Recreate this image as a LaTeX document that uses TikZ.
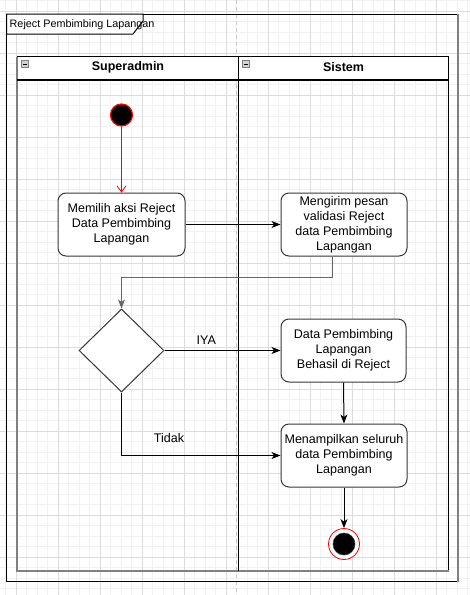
\documentclass[tikz,border=0pt]{standalone}
\usepackage{fontspec}
\setmainfont{Liberation Sans}
\usetikzlibrary{arrows.meta,shapes.geometric}
\definecolor{gridminor}{HTML}{F2F2F2}
\definecolor{gridmajor}{HTML}{DCDCDC}
\definecolor{edgegray}{HTML}{808080}
\definecolor{boxline}{HTML}{363636}
\tikzset{
  act/.style={rectangle, rounded corners=8pt, draw=boxline, fill=white, line width=1pt,
    align=center, inner sep=0pt, font=\fontsize{12.5}{15}\selectfont},
  flow/.style={line width=1pt, -{Stealth[length=9pt,width=7pt,inset=2.5pt]}},
  lbl/.style={font=\fontsize{12.5}{15}\selectfont, inner sep=0pt},
  hdr/.style={font=\bfseries\fontsize{12.5}{15}\selectfont, inner sep=0pt},
}
\begin{document}
\begin{tikzpicture}[x=1pt,y=-1pt]
\useasboundingbox (0,0) rectangle (470,595);
\fill[white] (0,0) rectangle (470,595);
% grid
\foreach \i in {0,...,45} \draw[gridminor, line width=0.5pt] (5.5+10.5*\i,0) -- (5.5+10.5*\i,595);
\foreach \i in {0,...,56} \draw[gridminor, line width=0.5pt] (0,0.5+10.5*\i) -- (470,0.5+10.5*\i);
\foreach \i in {0,...,10} \draw[gridmajor, line width=0.7pt] (16+42*\i,0) -- (16+42*\i,595);
\foreach \i in {0,...,13} \draw[gridmajor, line width=0.7pt] (0,11+42*\i) -- (470,11+42*\i);
% page break line
\draw[gridmajor!80!gray, line width=1pt, dash pattern=on 4pt off 3pt] (236.5,0) -- (236.5,595);
% frame
\draw[black, line width=1pt] (458,14) -- (6.5,14) -- (6.5,581.5) -- (458,581.5);
\draw[edgegray, line width=2.5pt] (458,14) -- (458,582);
\draw[black, line width=1pt, fill=white] (6.5,14) -- (143,14) -- (143,21) -- (133,34) -- (6.5,34) -- cycle;
\node[anchor=west, font=\fontsize{10.8}{12}\selectfont, inner sep=0pt] (title) at (9.5,24.5) {Reject Pembimbing Lapangan};
% pool
\fill[white] (17,56.5) rectangle (448.5,80);
\draw[black, line width=1.3pt] (17,56.5) -- (448.5,56.5) -- (448.5,571);
\draw[edgegray, line width=2.5pt] (17,56.5) -- (17,571) -- (448.5,571);
\draw[black, line width=1.3pt] (17,80) -- (448.5,80);
\draw[black, line width=1.3pt] (238.5,56.5) -- (238.5,571);
\node[hdr] (h1) at (128,67.5) {Superadmin};
\node[hdr] (h2) at (343.5,67.5) {Sistem};
\foreach \x in {21.5,242.5} {
  \draw[gray, fill=gray!35, line width=0.6pt] (\x,60.5) rectangle (\x+7,67.5);
  \draw[black, line width=0.8pt] (\x+1.8,64) -- (\x+5.2,64);
}
% nodes
\node[circle, fill=black, draw=red, line width=1.2pt, minimum size=22pt, inner sep=0pt] (start) at (121.5,115) {};
\node[act, minimum width=127pt, minimum height=63pt] (A) at (121.5,224.5) {Memilih aksi Reject\\Data Pembimbing\\Lapangan};
\node[act, minimum width=126pt, minimum height=63pt] (B) at (344,224.5) {Mengirim pesan\\validasi Reject\\data Pembimbing\\Lapangan};
\node[diamond, draw=boxline, fill=white, line width=1pt, minimum width=85pt, minimum height=83pt, inner sep=0pt] (dia) at (121.5,350.5) {};
\node[act, minimum width=125pt, minimum height=63pt] (C) at (343.5,350.5) {Data Pembimbing\\Lapangan\\Behasil di Reject};
\node[act, minimum width=126pt, minimum height=63pt] (D) at (344,455.5) {Menampilkan seluruh\\data Pembimbing\\Lapangan};
\node[circle, draw=red, fill=white, line width=0.8pt, minimum size=31pt, inner sep=0pt] (endo) at (344,544) {};
\node[circle, fill=black, draw=boxline, line width=0.6pt, minimum size=22pt, inner sep=0pt] (endi) at (344,544) {};
% connectors
\draw[red, line width=0.8pt, -{Straight Barb[length=6pt,width=9pt]}] (start) -- (A);
\draw[flow] (A.east) -- (B.west);
\coordinate (bend) at (332,277);
\draw[flow, draw=edgegray!80!black] ([xshift=-12pt]B.south) -- (bend) -| (dia.north);
\draw[flow] (dia.east) -- node[lbl, above=6pt, pos=0.36] (iya) {IYA} (C.west);
\draw[flow] (C.south) -- (D.north);
\draw[flow] (dia.south) |- (D.west);
\node[lbl] (tidak) at (169,438) {Tidak};
\draw[flow] (D.south) -- (endo.north);
\end{tikzpicture}
\end{document}
